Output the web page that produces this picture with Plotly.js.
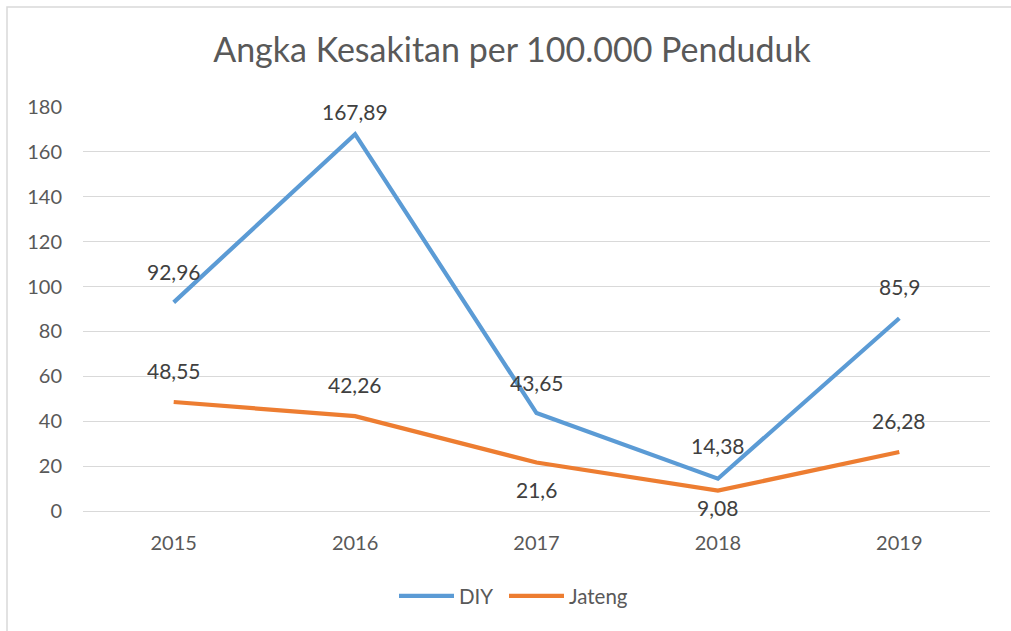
<!DOCTYPE html>
<html>
<head>
<meta charset="utf-8">
<script src="https://cdn.plot.ly/plotly-3.0.1.min.js"></script>
<style>html,body{margin:0;padding:0;background:#fff;}#chart{width:1011px;height:631px;}</style>
</head>
<body>
<div id="chart"></div>
<script>
const years = ['2015', '2016', '2017', '2018', '2019'];
const diy = [92.96, 167.89, 43.65, 14.38, 85.9];
const jateng = [48.55, 42.26, 21.6, 9.08, 26.28];
const diyLabels = ['92,96', '167,89', '43,65', '14,38', '85,9'];
const jatengLabels = ['48,55', '42,26', '21,6', '9,08', '26,28'];
const yTicks = [0, 20, 40, 60, 80, 100, 120, 140, 160, 180];

// label vertical offsets (px) – styling only
const diyShift = [31, 23, 31, 33, 32];
const jatengShift = [32, 32, -27, -17, 32];

const FONT = 'Lato, "Open Sans", sans-serif';
const blue = '#5B9BD5', orange = '#ED7D31';

const traces = [
  {x: years, y: diy, name: 'DIY', type: 'scatter', mode: 'lines', legend: 'legend',
   line: {color: blue, width: 4.2, shape: 'linear'}, hoverinfo: 'skip'},
  {x: years, y: jateng, name: 'Jateng', type: 'scatter', mode: 'lines', legend: 'legend2',
   line: {color: orange, width: 4.2, shape: 'linear'}, hoverinfo: 'skip'}
];

const annotations = [];
years.forEach((yr, i) => {
  // category axes take the category index for annotation x
  annotations.push({x: i, y: diy[i], xref: 'x', yref: 'y', text: diyLabels[i], showarrow: false,
    yshift: diyShift[i], font: {family: FONT, size: 21, color: '#404040'}});
  annotations.push({x: i, y: jateng[i], xref: 'x', yref: 'y', text: jatengLabels[i], showarrow: false,
    yshift: jatengShift[i], font: {family: FONT, size: 21, color: '#404040'}});
});

const L = 83, R = 990, T = 107, B = 511;
const pw = R - L, ph = B - T;
const legendBase = {orientation: 'h', xanchor: 'left', y: -(596 - B) / ph, yanchor: 'middle',
  font: {family: FONT, size: 20.5, color: '#595959'}, itemwidth: 55, bgcolor: 'rgba(0,0,0,0)'};
const layout = {
  width: 1011, height: 631,
  margin: {l: L, r: 1011 - R, t: T, b: 631 - B, pad: 0},
  paper_bgcolor: '#ffffff', plot_bgcolor: '#ffffff',
  title: {text: 'Angka Kesakitan per 100.000 Penduduk', x: (512 - L) / pw, xanchor: 'center', xref: 'paper',
    y: 1 - 50 / 631, yanchor: 'middle', yref: 'container',
    font: {family: FONT, size: 34, color: '#595959'}},
  font: {family: FONT, color: '#595959'},
  xaxis: {type: 'category', range: [-0.5, 4.5], showgrid: false, zeroline: false,
    showline: true, linecolor: '#D9D9D9', linewidth: 1, ticks: '',
    tickfont: {family: FONT, size: 20, color: '#595959'}, ticklabelstandoff: 14, fixedrange: true},
  yaxis: {range: [0, 180], tickvals: yTicks, ticktext: yTicks.map(String), showgrid: true,
    gridcolor: '#D9D9D9', gridwidth: 1, zeroline: false, showline: false, ticks: '',
    tickfont: {family: FONT, size: 20, color: '#595959'}, ticklabelstandoff: 20, fixedrange: true},
  showlegend: true,
  legend: Object.assign({}, legendBase, {x: (394 - L) / pw}),
  legend2: Object.assign({}, legendBase, {x: (504 - L) / pw}),
  annotations: annotations,
  shapes: [{type: 'rect', xref: 'paper', yref: 'paper',
    x0: (7 - L) / pw, x1: (1030 - L) / pw, y0: (B - 650) / ph, y1: 1 + (T - 7) / ph,
    line: {color: '#D9D9D9', width: 1.5}, fillcolor: 'rgba(0,0,0,0)', layer: 'below'}]
};

Plotly.newPlot('chart', traces, layout, {displayModeBar: false, staticPlot: true});
</script>
</body>
</html>
